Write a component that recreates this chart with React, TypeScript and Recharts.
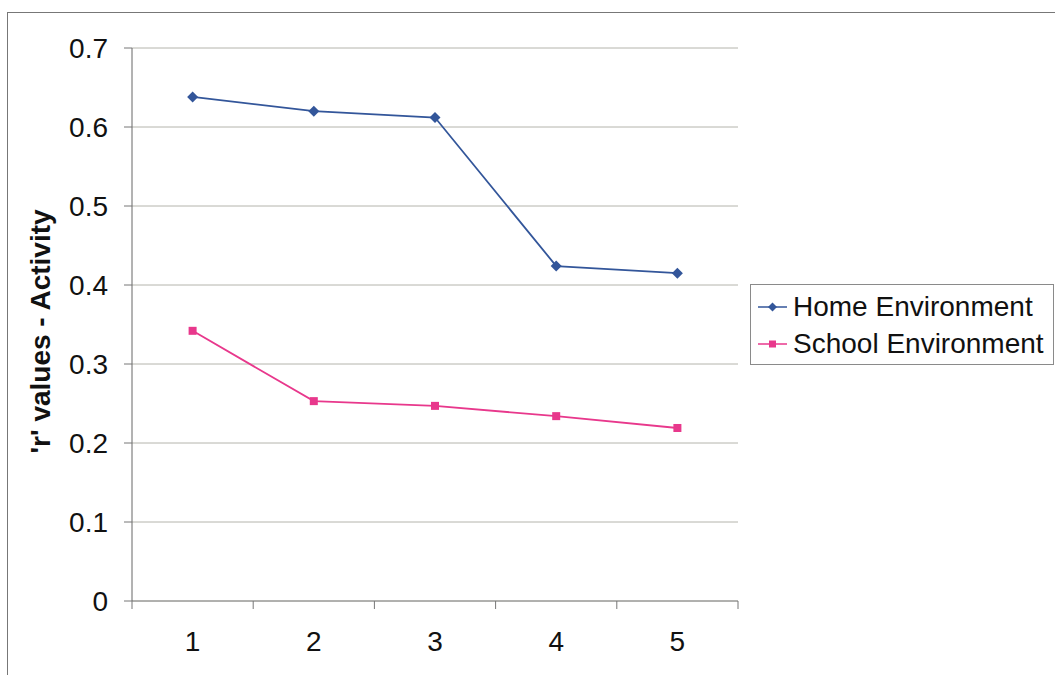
import React from 'react';
import {
  LineChart,
  Line,
  XAxis,
  YAxis,
  CartesianGrid,
} from 'recharts';

// categories along the x axis
const categories = [1, 2, 3, 4, 5];
// correlation values per environment
const homeValues = [0.638, 0.62, 0.612, 0.424, 0.415];
const schoolValues = [0.342, 0.253, 0.247, 0.234, 0.219];
const yTicks = [0, 0.1, 0.2, 0.3, 0.4, 0.5, 0.6, 0.7];

const data = categories.map((c, i) => ({
  x: c,
  home: homeValues[i],
  school: schoolValues[i],
}));

// tick marks sit on the category boundaries, labels in the middle
const boundaries = [0, ...categories].map((c) => c + 0.5);
const xTicks = [...boundaries, ...categories].sort((a, b) => a - b);

const HOME = '#33569a';
const SCHOOL = '#e8388c';
const FONT = '"Liberation Sans", Arial, sans-serif';

const series = [
  { key: 'home', name: 'Home Environment', color: HOME, shape: 'diamond' },
  { key: 'school', name: 'School Environment', color: SCHOOL, shape: 'square' },
];

const Diamond = (props: any) => {
  const { cx, cy, fill, key } = props;
  if (cx == null || cy == null) return null;
  const r = 5.5;
  return (
    <polygon
      key={key}
      points={`${cx},${cy - r} ${cx + r},${cy} ${cx},${cy + r} ${cx - r},${cy}`}
      fill={fill}
    />
  );
};

const Square = (props: any) => {
  const { cx, cy, fill, key } = props;
  if (cx == null || cy == null) return null;
  const s = 8;
  return <rect key={key} x={cx - s / 2} y={cy - s / 2} width={s} height={s} fill={fill} />;
};

const XTick = (props: any) => {
  const { x, y, payload } = props;
  const v = payload.value;
  if (!Number.isInteger(v)) {
    return <line x1={x} x2={x} y1={y - 8} y2={y} stroke="#777" strokeWidth={1} />;
  }
  return (
    <text x={x} y={y} dy={42} textAnchor="middle" fill="#111" fontSize={28} fontFamily={FONT}>
      {v}
    </text>
  );
};

const LegendBox = () => (
  <div
    style={{
      position: 'absolute',
      left: 750,
      top: 284,
      border: '1px solid #8a8a8a',
      background: '#fff',
      width: 304,
      height: 81,
      boxSizing: 'border-box',
      paddingTop: 3,
      fontFamily: FONT,
    }}
  >
    {series.map((s) => (
      <div key={s.key} style={{ display: 'flex', alignItems: 'center', height: 37 }}>
        <svg width={42} height={20} style={{ flex: 'none' }}>
          <line x1={7} x2={36} y1={10} y2={10} stroke={s.color} strokeWidth={1.5} />
          {s.shape === 'diamond' ? (
            <polygon points="21.5,5.5 26,10 21.5,14.5 17,10" fill={s.color} />
          ) : (
            <rect x={18} y={6.5} width={7} height={7} fill={s.color} />
          )}
        </svg>
        <span style={{ fontSize: 28, color: '#111', lineHeight: '28px', whiteSpace: 'nowrap' }}>
          {s.name}
        </span>
      </div>
    ))}
  </div>
);

const App = () => {
  return (
    <div
      style={{
        position: 'absolute',
        left: 0,
        top: 0,
        width: 1055,
        height: 675,
        background: '#fff',
        fontFamily: FONT,
        overflow: 'hidden',
      }}
    >
      {/* outer frame */}
      <div
        style={{
          position: 'absolute',
          left: 7,
          top: 12,
          width: 1100,
          height: 700,
          borderLeft: '1px solid #777',
          borderTop: '1px solid #777',
        }}
      />
      <LineChart
        width={1055}
        height={675}
        data={data}
        margin={{ top: 48, right: 317, bottom: 14, left: 0 }}
        style={{ position: 'absolute', left: 0, top: 0 }}
      >
        <CartesianGrid vertical={false} stroke="#b4b4ac" strokeWidth={1} />
        <XAxis
          dataKey="x"
          type="number"
          domain={[0.5, 5.5]}
          ticks={xTicks}
          interval={0}
          allowDecimals
          height={60}
          tickSize={8}
          tickMargin={0}
          tickLine={false}
          tick={<XTick />}
          axisLine={{ stroke: '#888' }}
        />
        <YAxis
          type="number"
          domain={[0, 0.7]}
          ticks={yTicks}
          interval={0}
          width={132}
          tickSize={8}
          tickMargin={16}
          tickLine={{ stroke: '#777' }}
          axisLine={{ stroke: '#666' }}
          tick={{ fill: '#111', fontSize: 28, fontFamily: FONT }}
          tickFormatter={(v: number) => (v === 0 ? '0' : v.toFixed(1))}
          label={{
            content: (p: any) => {
              const vb = p.viewBox || {};
              const cy = (vb.y || 0) + (vb.height || 0) / 2 + 7;
              return (
                <text
                  x={40}
                  y={cy}
                  transform={`rotate(-90, 40, ${cy})`}
                  textAnchor="middle"
                  dominantBaseline="central"
                  fontSize={28}
                  fontWeight="bold"
                  fill="#111"
                  fontFamily={FONT}
                >
                  'r' values - Activity
                </text>
              );
            },
          }}
        />
        {series.map((s) => (
          <Line
            key={s.key}
            dataKey={s.key}
            name={s.name}
            stroke={s.color}
            strokeWidth={1.8}
            dot={s.shape === 'diamond' ? <Diamond fill={s.color} /> : <Square fill={s.color} />}
            activeDot={false}
            isAnimationActive={false}
          />
        ))}
      </LineChart>
      <LegendBox />
    </div>
  );
};

export default App;
